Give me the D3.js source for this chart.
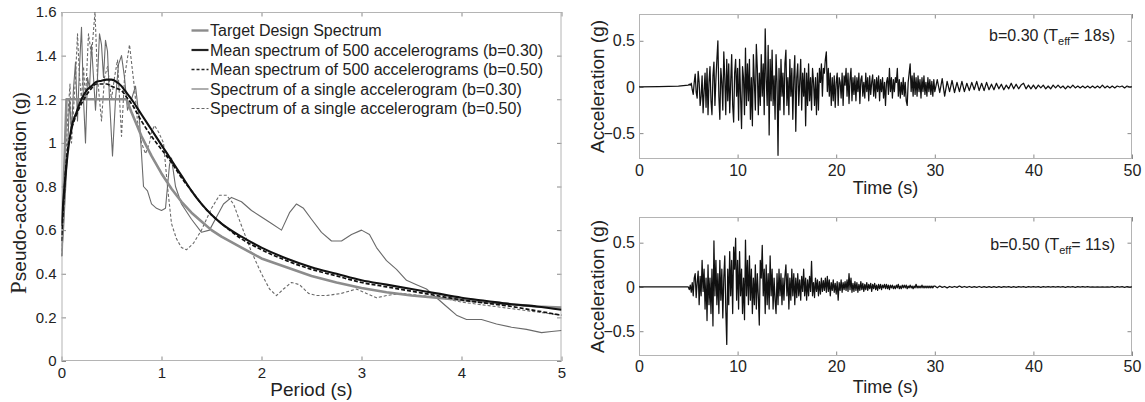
<!DOCTYPE html>
<html><head><meta charset="utf-8">
<script src="https://cdn.jsdelivr.net/npm/d3@7"></script>
<style>body{margin:0;background:#fff}svg{display:block;font-family:"Liberation Sans",Arial,sans-serif}</style>
</head><body><svg id="c" width="1145" height="402"></svg>
<script>
// ---------------- DATA ----------------
const periodTicks = [0, 1, 2, 3, 4, 5];
const saTicks = [0, 0.2, 0.4, 0.6, 0.8, 1.0, 1.2, 1.4, 1.6];
const timeTicks = [0, 10, 20, 30, 40, 50];
const accTicks = [-0.5, 0, 0.5];

const legendLabels = [
  "Target Design Spectrum",
  "Mean spectrum of 500 accelerograms (b=0.30)",
  "Mean spectrum of 500 accelerograms (b=0.50)",
  "Spectrum of a single accelerogram (b=0.30)",
  "Spectrum of a single accelerogram (b=0.50)"
];

const targetT  = [0, 0.05, 0.65, 0.7, 0.8, 0.9, 1.0, 1.1, 1.2, 1.3, 1.4, 1.5, 1.6, 1.8, 2.0, 2.25, 2.5, 2.75, 3.0, 3.25, 3.5, 3.75, 4.0, 4.25, 4.5, 4.75, 5.0];
const targetSa = [0.48, 1.2, 1.2, 1.14, 1.03, 0.94, 0.86, 0.79, 0.73, 0.68, 0.64, 0.6, 0.57, 0.52, 0.47, 0.43, 0.39, 0.36, 0.335, 0.315, 0.3, 0.29, 0.28, 0.27, 0.26, 0.25, 0.245];

const meanT     = [0, 0.05, 0.1, 0.15, 0.2, 0.25, 0.3, 0.35, 0.4, 0.45, 0.5, 0.55, 0.6, 0.65, 0.7, 0.8, 0.9, 1.0, 1.1, 1.2, 1.3, 1.4, 1.5, 1.6, 1.8, 2.0, 2.25, 2.5, 2.75, 3.0, 3.25, 3.5, 3.75, 4.0, 4.25, 4.5, 4.75, 5.0];
const mean030Sa = [0.62, 0.9, 1.07, 1.14, 1.2, 1.24, 1.26, 1.28, 1.285, 1.29, 1.29, 1.28, 1.26, 1.23, 1.2, 1.13, 1.06, 0.99, 0.92, 0.85, 0.78, 0.72, 0.67, 0.63, 0.57, 0.52, 0.47, 0.43, 0.40, 0.37, 0.35, 0.33, 0.31, 0.29, 0.275, 0.26, 0.25, 0.235];
const mean050Sa = [0.55, 0.92, 1.06, 1.13, 1.18, 1.22, 1.25, 1.27, 1.27, 1.27, 1.26, 1.25, 1.24, 1.21, 1.18, 1.1, 1.03, 0.97, 0.91, 0.84, 0.78, 0.72, 0.67, 0.63, 0.56, 0.51, 0.46, 0.42, 0.39, 0.36, 0.34, 0.32, 0.30, 0.28, 0.265, 0.25, 0.23, 0.21];

const single030T  = [0, 0.02, 0.04, 0.06, 0.08, 0.1, 0.12, 0.14, 0.16, 0.18, 0.2, 0.22, 0.24, 0.26, 0.28, 0.3, 0.32, 0.34, 0.36, 0.38, 0.4, 0.42, 0.44, 0.46, 0.48, 0.51, 0.54, 0.57, 0.6, 0.63, 0.66, 0.7, 0.74, 0.78, 0.82, 0.86, 0.9, 0.95, 1.0, 1.04, 1.08, 1.1, 1.14, 1.2, 1.3, 1.4, 1.48, 1.55, 1.62, 1.7, 1.8, 1.9, 2.0, 2.1, 2.2, 2.28, 2.35, 2.42, 2.5, 2.6, 2.7, 2.8, 2.9, 3.0, 3.08, 3.15, 3.25, 3.35, 3.45, 3.55, 3.65, 3.75, 3.85, 3.95, 4.05, 4.2, 4.35, 4.5, 4.65, 4.8, 4.9, 5.0];
const single030Sa = [0.48, 0.6, 0.78, 0.95, 1.2, 1.05, 1.25, 1.37, 1.1, 1.35, 1.53, 1.2, 1.0, 1.3, 1.25, 1.45, 1.3, 1.15, 1.3, 1.5, 1.45, 1.3, 1.47, 1.42, 1.2, 0.94, 1.2, 1.36, 1.4, 1.3, 1.15, 1.2, 1.26, 1.1, 0.8, 0.78, 0.72, 0.7, 0.69, 0.7, 0.9, 0.93, 0.8, 0.72, 0.65, 0.59, 0.6, 0.66, 0.72, 0.75, 0.73, 0.69, 0.66, 0.63, 0.6, 0.68, 0.72, 0.7, 0.65, 0.59, 0.55, 0.55, 0.58, 0.6, 0.58, 0.52, 0.46, 0.42, 0.37, 0.35, 0.33, 0.29, 0.25, 0.21, 0.19, 0.19, 0.17, 0.155, 0.145, 0.13, 0.135, 0.14];

const single050T  = [0, 0.02, 0.04, 0.06, 0.085, 0.1, 0.12, 0.14, 0.16, 0.18, 0.2, 0.22, 0.24, 0.27, 0.3, 0.335, 0.36, 0.4, 0.43, 0.46, 0.5, 0.53, 0.56, 0.6, 0.63, 0.68, 0.73, 0.76, 0.8, 0.84, 0.88, 0.9, 0.93, 0.97, 1.02, 1.06, 1.1, 1.15, 1.2, 1.25, 1.32, 1.4, 1.5, 1.58, 1.65, 1.72, 1.8, 1.9, 2.0, 2.08, 2.15, 2.22, 2.3, 2.38, 2.47, 2.55, 2.65, 2.8, 2.95, 3.05, 3.15, 3.25, 3.4, 3.6, 3.8, 4.0, 4.25, 4.5, 4.75, 5.0];
const single050Sa = [0.48, 0.7, 0.9, 1.1, 1.27, 1.0, 1.15, 1.3, 1.5, 1.3, 1.2, 1.35, 1.2, 1.5, 1.4, 1.6, 1.3, 1.1, 1.3, 1.35, 1.2, 1.3, 1.38, 1.03, 1.3, 1.45, 1.25, 1.1, 1.0, 0.95, 1.0, 1.05, 1.08, 1.05, 1.0, 0.8, 0.63, 0.56, 0.52, 0.51, 0.54, 0.6, 0.7, 0.76, 0.76, 0.72, 0.62, 0.5, 0.4, 0.33, 0.3, 0.33, 0.36, 0.35, 0.31, 0.3, 0.3, 0.31, 0.33, 0.31, 0.29, 0.3, 0.31, 0.3, 0.29, 0.27, 0.255, 0.24, 0.225, 0.21];

// accelerograms: lead-in points, main part (dt = 0.1 s from 5.0 s), tail (dt = 0.25 s from 30 s)
const pre030T = [0, 2, 4], pre030A = [0, 0.003, 0.008];
const pre050T = [0, 4.5],  pre050A = [0, 0];
const mainStart = 5.0, mainDt = 0.1, tailStart = 30.0, tailDt = 0.25;

const acc030Main = [
 0.02, 0.03, 0.02, 0.04, -0.03, -0.08, 0.05, 0.14, -0.06, -0.12,
 0.17, 0.05, -0.2, -0.1, 0.12, -0.28, -0.05, 0.15, -0.22, 0.2,
 -0.3, 0.05, 0.22, -0.15, -0.3, 0.12, 0.27, -0.2, 0.08, 0.3,
 0.5, -0.1, -0.35, 0.2, 0.05, -0.25, 0.38, 0.1, -0.3, 0.3,
 -0.15, 0.25, -0.28, 0.05, 0.35, -0.2, -0.38, 0.15, 0.3, -0.1,
 0.2, -0.36, 0.3, -0.1, -0.45, 0.22, 0.1, -0.3, 0.42, -0.2,
 0.25, -0.15, 0.3, -0.35, 0.1, -0.42, 0.35, 0.05, -0.25, 0.46,
 0.2, -0.3, 0.15, -0.2, 0.35, -0.1, 0.25, -0.3, 0.63, 0.1,
 -0.2, 0.45, -0.52, 0.3, -0.15, 0.4, -0.2, 0.12, -0.35, 0.35,
 0.05, -0.74, 0.2, -0.25, 0.3, -0.1, 0.15, -0.3, 0.25, 0.4,
 -0.2, 0.1, -0.3, 0.3, -0.1, 0.2, -0.35, 0.1, 0.34, -0.48,
 0.1, 0.25, -0.2, 0.05, 0.3, -0.25, 0.15, -0.1, 0.2, -0.42,
 0.15, -0.2, 0.25, -0.15, 0.1, -0.25, 0.2, 0.05, -0.2, 0.1,
 -0.3, 0.15, -0.25, 0.2, 0.05, 0.25, -0.1, 0.2, 0.15, 0.3,
 0.38, -0.05, 0.2, -0.1, 0.15, -0.2, 0.1, -0.15, 0.12, -0.22,
 0.05, 0.15, -0.2, 0.1, 0.05, -0.12, 0.15, -0.2, 0.12, 0.02,
 0.2, -0.1, 0.15, -0.18, 0.08, 0.2, -0.15, 0.1, -0.08, 0.12,
 -0.15, 0.1, -0.05, 0.15, -0.18, 0.08, 0.12, -0.1, 0.05, -0.12,
 0.15, -0.05, 0.1, -0.15, 0.12, -0.08, 0.05, 0.13, -0.1, 0.08,
 -0.12, 0.1, -0.05, 0.12, -0.15, 0.08, -0.05, 0.1, -0.12, 0.05,
 -0.2, 0.05, 0.1, -0.08, 0.2, -0.05, 0.1, -0.12, 0.08, -0.05,
 0.1, 0.05, 0.2, -0.1, 0.08, -0.12, 0.05, -0.08, 0.1, -0.1,
 0.05, -0.15, -0.2, 0.05, 0.15, 0.25, -0.05, 0.12, -0.1, 0.15,
 -0.08, 0.1, -0.1, 0.12, -0.05, 0.08, -0.12, 0.1, -0.05, 0.12,
 -0.08, 0.05, -0.1, 0.1, -0.05, 0.08, -0.08, 0.06, -0.1, 0.08
];
const acc030Tail = [
 -0.05, 0.08, -0.06, 0.09, -0.1, 0.06, -0.05, 0.07,
 -0.06, 0.05, -0.05, 0.06, -0.05, 0.04, -0.04, 0.05,
 -0.03, 0.06, -0.04, 0.04, -0.04, 0.05, -0.03, 0.03,
 -0.03, 0.04, -0.02, 0.03, -0.03, 0.02, -0.02, 0.04,
 -0.02, 0.03, -0.02, 0.02, 0.04, -0.02, 0.02, -0.02,
 0.02, -0.02, 0.02, -0.01, 0.02, -0.02, 0.01, -0.02,
 0.02, -0.01, 0.02, -0.01, 0.01, -0.02, 0.01, -0.01,
 0.02, -0.01, 0.01, -0.01, 0.01, -0.01, 0.01, -0.01,
 0.01, -0.01, 0.01, -0.01, 0.02, -0.01, 0.01, -0.01,
 0.01, -0.01, 0.01, 0, 0.01, -0.01, 0.01, 0,
 0
];
const acc050Main = [
 0.0, -0.03, 0.02, -0.06, 0.05, -0.1, 0.1, 0.15, -0.12, 0.05,
 0.18, -0.2, 0.12, -0.1, 0.3, -0.05, 0.2, -0.25, 0.1, -0.38,
 0.25, -0.2, 0.1, -0.3, 0.2, -0.44, 0.52, -0.1, 0.3, -0.2,
 0.15, -0.3, 0.3, -0.15, 0.2, -0.35, 0.1, 0.35, -0.25, -0.65,
 0.2, -0.2, 0.4, -0.1, 0.3, -0.3, 0.45, 0.2, 0.55, -0.15,
 0.3, -0.25, 0.4, -0.1, 0.2, -0.3, 0.1, -0.37, 0.53, -0.1,
 0.3, -0.2, 0.35, -0.15, 0.2, -0.3, 0.1, -0.2, 0.25, -0.25,
 0.15, -0.1, -0.43, 0.3, 0.1, 0.47, -0.1, 0.2, -0.3, 0.25,
 -0.2, 0.15, -0.25, 0.35, -0.1, 0.2, -0.25, 0.1, -0.15, -0.3,
 0.15, -0.2, 0.2, -0.1, 0.15, -0.2, 0.1, -0.15, 0.12, 0.25,
 -0.1, 0.15, -0.25, 0.1, -0.15, 0.2, -0.1, 0.15, -0.2, 0.1,
 -0.12, 0.15, -0.1, 0.08, -0.15, 0.12, -0.05, 0.2, -0.1, 0.1,
 -0.15, 0.08, -0.1, 0.12, -0.05, 0.29, -0.1, 0.05, -0.12, 0.1,
 -0.05, 0.08, -0.1, 0.06, -0.08, 0.1, -0.05, 0.07, -0.04, 0.1,
 -0.06, 0.12, -0.05, 0.08, -0.1, 0.05, -0.04, 0.08, -0.06, 0.04,
 -0.08, 0.06, -0.15, 0.05, -0.04, 0.08, -0.06, 0.05, -0.03, 0.06,
 -0.04, 0.08, -0.05, 0.15, -0.03, 0.1, -0.06, 0.04, -0.05, 0.06,
 -0.04, 0.05, -0.06, 0.03, -0.04, 0.06, -0.03, 0.04, -0.05, 0.03,
 -0.03, 0.05, -0.04, 0.03, -0.02, 0.04, -0.05, 0.03, -0.02, 0.04,
 -0.03, 0.02, -0.04, 0.03, -0.02, 0.03, -0.03, 0.02, -0.01, 0.03,
 -0.02, 0.03, -0.02, 0.02, -0.03, 0.02, -0.01, 0.02, -0.02, 0.01,
 -0.02, 0.02, -0.01, 0.03, -0.02, 0.01, -0.02, 0.02, -0.01, 0.02,
 -0.01, 0.02, -0.02, 0.01, -0.01, 0.02, -0.01, 0.01, -0.02, 0.01,
 -0.01, 0.03, -0.01, 0.01, -0.01, 0.01, -0.01, 0.02, -0.01, 0.01,
 -0.01, 0.01, -0.01, 0.01, -0.01, 0.01, -0.01, 0.01, -0.01, 0.01
];
const acc050Tail = [
 0.01, -0.01, 0.01, -0.005, 0.005, -0.01, 0.005, -0.005,
 0.005, -0.005, 0.01, -0.005, 0.005, -0.005, 0.005, -0.005,
 0.004, -0.004, 0.005, -0.004, 0.004, -0.005, 0.004, -0.004,
 0.004, -0.004, 0.003, -0.004, 0.004, -0.003, 0.004, -0.004,
 0.003, -0.004, 0.004, -0.003, 0.003, -0.004, 0.003, -0.003,
 0.004, -0.003, 0.003, -0.004, 0.003, -0.003, 0.004, -0.003,
 0.003, -0.003, 0.004, -0.003, 0.003, -0.004, 0.003, -0.003,
 0.003, -0.004, 0.003, -0.003, 0.004, -0.003, 0.003, -0.003,
 0.002, -0.002, 0.002, -0.002, 0.002, -0.002, 0.002, -0.002,
 0.003, -0.004, 0.004, -0.003, 0.003, -0.004, 0.003, -0.003,
 0
];

// ---------------- DRAW ----------------
const svg = d3.select("#c");
svg.append("rect").attr("width", 1145).attr("height", 402).attr("fill", "#fff");
const TXT = "#222", BOX = "#b4b4b4", TICK = "#8a8a8a";
const defs = svg.append("defs");

function frame(g, x, y, xt, yt, xFmt, yFmt, fs, padX, padY, clipId) {
  const [x0, x1] = x.range(), [y1, y0] = y.range();
  defs.append("clipPath").attr("id", clipId).append("rect")
    .attr("x", x0).attr("y", y0).attr("width", x1 - x0).attr("height", y1 - y0);
  const style = a => {
    a.select(".domain").remove();
    a.selectAll(".tick line").attr("stroke", TICK);
    a.selectAll(".tick text").attr("fill", TXT).attr("font-size", fs).attr("font-family", '"Liberation Sans", Arial, sans-serif');
  };
  g.append("g").attr("transform", `translate(0,${y1})`)
    .call(d3.axisBottom(x).tickValues(xt).tickFormat(xFmt).tickSizeInner(-4.5).tickSizeOuter(0).tickPadding(padX)).call(style);
  g.append("g").attr("transform", `translate(0,${y0})`)
    .call(d3.axisTop(x).tickValues(xt).tickFormat("").tickSizeInner(-4.5).tickSizeOuter(0)).call(style);
  g.append("g").attr("transform", `translate(${x0},0)`)
    .call(d3.axisLeft(y).tickValues(yt).tickFormat(yFmt).tickSizeInner(-4.5).tickSizeOuter(0).tickPadding(padY)).call(style);
  g.append("g").attr("transform", `translate(${x1},0)`)
    .call(d3.axisRight(y).tickValues(yt).tickFormat("").tickSizeInner(-4.5).tickSizeOuter(0)).call(style);
  g.append("rect").attr("x", x0 + 0.5).attr("y", y0 + 0.5).attr("width", x1 - x0 - 1).attr("height", y1 - y0 - 1)
    .attr("fill", "none").attr("stroke", BOX).attr("stroke-width", 1);
}

// ===== Left: response spectra =====
const xL = d3.scaleLinear().domain([0, 5]).range([61.5, 561.5]);
const yL = d3.scaleLinear().domain([0, 1.6]).range([361, 12]);
const gL = svg.append("g");
frame(gL, xL, yL, periodTicks, saTicks, d3.format("~g"), d3.format("~g"), 15, 6, 5, "clipL");

const lineSpec = (curve) => d3.line().x(d => xL(d[0])).y(d => yL(d[1])).curve(curve);
const zip = (a, b) => a.map((v, i) => [v, b[i]]);
const specSeries = [
  {T: single030T, S: single030Sa, stroke: "#6a6a6a", w: 1.1, dash: null, curve: d3.curveLinear},
  {T: single050T, S: single050Sa, stroke: "#6a6a6a", w: 1.1, dash: "3,2", curve: d3.curveLinear},
  {T: targetT, S: targetSa, stroke: "#8c8c8c", w: 2.6, dash: null, curve: d3.curveLinear},
  {T: meanT, S: mean050Sa, stroke: "#111", w: 1.7, dash: "4,2", curve: d3.curveMonotoneX},
  {T: meanT, S: mean030Sa, stroke: "#111", w: 2.1, dash: null, curve: d3.curveMonotoneX}
];
const plotL = gL.append("g").attr("clip-path", "url(#clipL)");
specSeries.forEach(s => {
  plotL.append("path").attr("d", lineSpec(s.curve)(zip(s.T, s.S)))
    .attr("fill", "none").attr("stroke", s.stroke).attr("stroke-width", s.w)
    .attr("stroke-dasharray", s.dash).attr("stroke-linejoin", "round");
});

// legend
const legStyles = [
  {stroke: "#8c8c8c", w: 2.4, dash: null},
  {stroke: "#222", w: 2.2, dash: null},
  {stroke: "#222", w: 1.5, dash: "3,2"},
  {stroke: "#9a9a9a", w: 1.6, dash: null},
  {stroke: "#666", w: 1.2, dash: "3,2"}
];
const leg = gL.append("g");
legendLabels.forEach((lab, i) => {
  const yy = 30.5 + i * 19.5;
  leg.append("line").attr("x1", 191.5).attr("x2", 208.5).attr("y1", yy).attr("y2", yy)
    .attr("stroke", legStyles[i].stroke).attr("stroke-width", legStyles[i].w).attr("stroke-dasharray", legStyles[i].dash);
  leg.append("text").attr("x", 210).attr("y", yy).attr("dy", "0.35em")
    .attr("font-size", 16).attr("fill", TXT).text(lab);
});

// axis titles
gL.append("text").attr("x", 311.5).attr("y", 389).attr("dy", "0.35em").attr("text-anchor", "middle")
  .attr("font-size", 19).attr("fill", TXT).text("Period (s)");
const yt = gL.append("text").attr("transform", "translate(20,193) rotate(-90)").attr("text-anchor", "middle")
  .attr("dy", "0.35em").attr("fill", TXT);
yt.append("tspan").attr("font-family", '"Liberation Serif", "Times New Roman", serif').attr("font-size", 23).text("P");
yt.append("tspan").attr("font-size", 19).text("seudo-acceleration (g)");

// ===== Right: accelerograms =====
function accPlot(preT, preA, mainA, tailA, yRange, padX, titleY, bVal, teff, textY, clipId) {
  const x = d3.scaleLinear().domain([0, 50]).range([639, 1132]);
  const y = d3.scaleLinear().domain([-0.78, 0.79]).range(yRange);
  const g = svg.append("g");
  frame(g, x, y, timeTicks, accTicks, d3.format("~g"), d3.format("~g"), 16, padX, 4, clipId);
  const pts = zip(preT, preA)
    .concat(mainA.map((v, i) => [mainStart + i * mainDt, v]))
    .concat(tailA.map((v, i) => [tailStart + i * tailDt, v]));
  g.append("g").attr("clip-path", `url(#${clipId})`).append("path")
    .attr("d", d3.line().x(d => x(d[0])).y(d => y(d[1]))(pts))
    .attr("fill", "none").attr("stroke", "#111").attr("stroke-width", 1.25).attr("stroke-linejoin", "round");
  g.append("text").attr("x", 885.5).attr("y", titleY).attr("dy", "0.35em").attr("text-anchor", "middle")
    .attr("font-size", 18).attr("fill", TXT).text("Time (s)");
  const cy = (yRange[0] + yRange[1]) / 2;
  g.append("text").attr("transform", `translate(597,${cy}) rotate(-90)`).attr("text-anchor", "middle")
    .attr("dy", "0.35em").attr("font-size", 19).attr("fill", TXT).text("Acceleration (g)");
  const ann = g.append("text").attr("x", 1115).attr("y", textY).attr("text-anchor", "end")
    .attr("font-size", 16).attr("fill", TXT);
  ann.append("tspan").text(`b=${bVal} (T`);
  ann.append("tspan").attr("font-size", 11).attr("dy", 4).text("eff");
  ann.append("tspan").attr("dy", -4).text(`= ${teff}s)`);
}
accPlot(pre030T, pre030A, acc030Main, acc030Tail, [159, 14], 6, 188, "0.30", 18, 41, "clipR1");
accPlot(pre050T, pre050A, acc050Main, acc050Tail, [356, 217], 5, 387, "0.50", 11, 250, "clipR2");
</script>
</body></html>
